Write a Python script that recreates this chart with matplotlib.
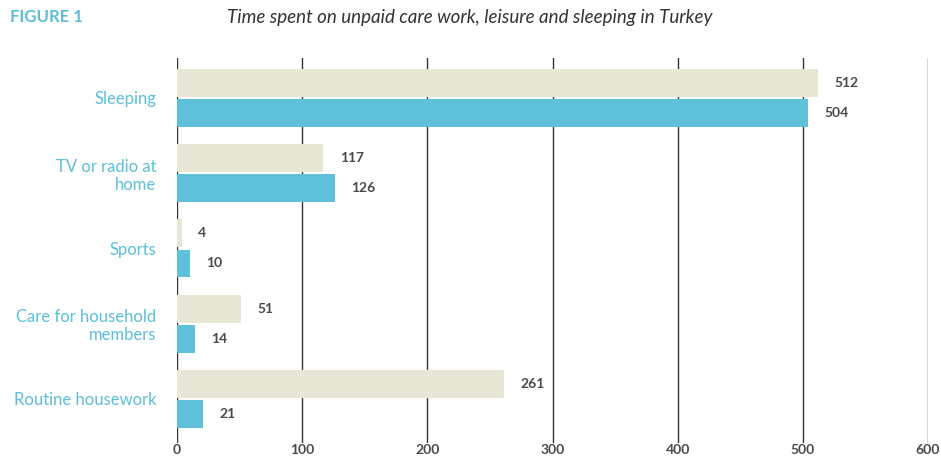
import matplotlib
matplotlib.use('Agg')
from matplotlib import pyplot as plt
import numpy as np

# Datos
categories = ['Sleeping', 'TV or radio at\nhome', 'Sports', 'Care for household\nmembers', 'Routine housework']
beige_values = [512, 117, 4, 51, 261]
blue_values = [504, 126, 10, 14, 21]
x_ticks = [0, 100, 200, 300, 400, 500, 600]

beige = '#E8E6D4'
blue = '#5EC1D9'
label_blue = '#5BBFD9'
dark = '#4a4a4a'

plt.rcParams['font.family'] = ['Lato', 'DejaVu Sans']

fig = plt.figure(figsize=(9.41, 4.62), dpi=100)
ax = fig.add_axes([177 / 941, 1 - 443 / 462, (928 - 177) / 941, (443 - 58) / 462])

y = np.arange(len(categories))
h = 0.37
ax.barh(y - 0.2, beige_values, height=h, color=beige, zorder=3)
ax.barh(y + 0.2, blue_values, height=h, color=blue, zorder=3)

for i in range(len(categories)):
    ax.text(beige_values[i] + 13, y[i] - 0.2, str(beige_values[i]), va='center', ha='left',
            fontsize=10, fontweight='bold', color=dark)
    ax.text(blue_values[i] + 13, y[i] + 0.2, str(blue_values[i]), va='center', ha='left',
            fontsize=10, fontweight='bold', color=dark)

ax.set_xlim(0, 600)
ax.set_ylim(4.585, -0.53)
ax.set_xticks(x_ticks)
ax.set_xticklabels([str(t) for t in x_ticks], fontsize=10, fontweight='bold', color=dark)
ax.set_yticks(y)
ax.set_yticklabels(categories, fontsize=12, color=label_blue, ha='right', linespacing=1.15)
ax.tick_params(axis='both', length=0)
ax.tick_params(axis='y', pad=15)
ax.tick_params(axis='x', pad=1)

for t in x_ticks:
    ax.axvline(t, color='#333333', linewidth=1, zorder=1)
for s in ax.spines.values():
    s.set_visible(False)

fig.text(10 / 941, 1 - 17 / 462, 'FIGURE 1', fontsize=12, fontweight='bold', color=label_blue,
         va='center', ha='left')
fig.text(470 / 941, 1 - 17 / 462, 'Time spent on unpaid care work, leisure and sleeping in Turkey',
         fontsize=13.5, fontstyle='italic', color='#333333', va='center', ha='center')

fig.savefig('out.png', dpi=100)
